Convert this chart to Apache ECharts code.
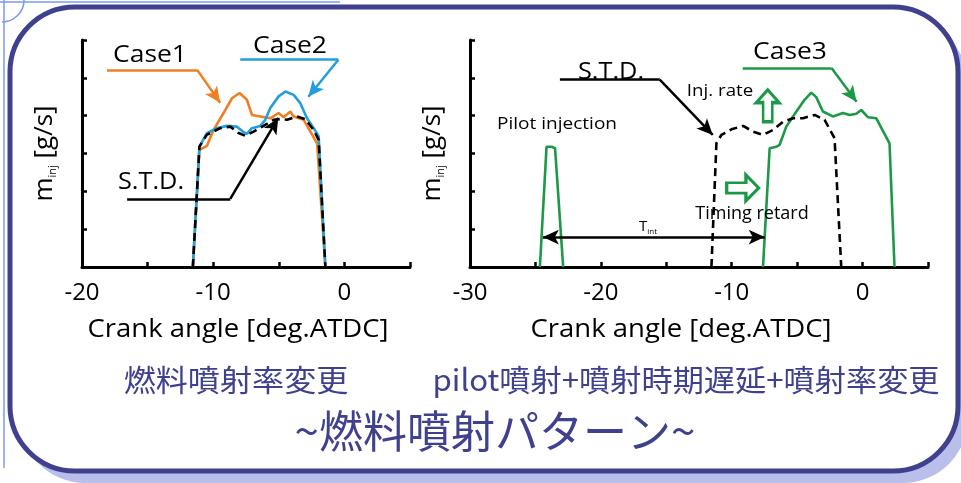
<!DOCTYPE html>
<html><head><meta charset="utf-8">
<script src="https://cdn.jsdelivr.net/npm/echarts@6/dist/echarts.min.js"></script>
<style>html,body{margin:0;padding:0;background:#fff}#c{width:961px;height:483px}</style>
</head><body><div id="c"></div>
<script>
// ---- data (crank angle [deg ATDC], injection rate in tick units) ----
var std1X  = [-11.55,-11.05,-10.5,-9.47,-8.7,-8.07,-7.56,-6.92,-6.16,-5.4,-4.89,-4.37,-3.61,-2.98,-2.34,-1.96,-1.45];
var std1Y  = [0,3.18,3.49,3.67,3.71,3.54,3.47,3.58,3.73,3.89,3.91,3.89,3.98,3.91,3.62,3.36,0];
var case1X = [-11.55,-11.05,-10.48,-9.98,-9.21,-8.57,-7.99,-7.43,-7.05,-6.41,-5.65,-5.01,-4.63,-4.12,-3.87,-3.1,-2.08,-1.45];
var case1Y = [0,3.1,3.2,3.62,4.07,4.46,4.6,4.42,4.02,3.98,3.93,4.07,3.96,4.11,3.98,3.89,3.27,0];
var case2X = [-11.55,-11.05,-10.48,-9.72,-8.95,-8.19,-7.74,-7.43,-7.05,-6.41,-6.03,-5.65,-5.01,-4.5,-3.87,-3.36,-2.85,-2.34,-1.96,-1.45];
var case2Y = [0,3.18,3.54,3.67,3.73,3.71,3.58,3.52,3.67,3.73,3.89,4.2,4.51,4.64,4.55,4.33,3.93,3.67,3.45,0];
var pilotX = [-24.66,-24.15,-23.76,-23.5,-22.88];
var pilotY = [0,3.18,3.18,3.14,0];
var case3X = [-7.61,-7.1,-6.59,-6.34,-5.83,-5.06,-4.43,-3.92,-3.54,-3.03,-2.27,-1.5,-0.99,-0.48,-0.1,0.41,1.05,2.06,2.44];
var case3Y = [0,3.14,3.18,3.23,3.71,4.11,4.42,4.61,4.49,4.11,3.98,4.07,4.02,4.05,4.15,3.96,3.93,3.27,0];
var std2X  = [-11.55,-11.17,-10.79,-10.02,-9.13,-8.37,-7.61,-6.85,-6.08,-5.32,-4.56,-3.66,-2.9,-2.14,-1.63];
var std2Y  = [0,3.27,3.49,3.64,3.73,3.58,3.49,3.62,3.84,3.93,3.93,4.02,3.89,3.4,0];
var leftTickLabels  = ['-20','-10','0'];
var rightTickLabels = ['-30','-20','-10','0'];
var xName = 'Crank angle [deg.ATDC]';
var subLeft = '燃料噴射率変更';
var subRight = 'pilot噴射+噴射時期遅延+噴射率変更';
var mainTitle = '~燃料噴射パターン~';

function pairs(xs, ys){ return xs.map(function(x,i){return [x, ys[i]];}); }

var ORANGE='#ee7f22', BLUE='#229fdb', GREEN='#1b9947', NAVY='#3f418f';
var FONT='"Open Sans", "Noto Sans", sans-serif';
var CJK='"Noto Sans CJK JP", sans-serif';

function xAxisCfg(idx, min, labels){
  return {type:'value', gridIndex:idx, min:min, max:5, interval:5,
    axisLine:{show:true, onZero:false, lineStyle:{color:'#000', width:3}},
    axisTick:{show:true, inside:true, length:5, lineStyle:{color:'#000', width:2.5}},
    splitLine:{show:false},
    axisLabel:{margin:14, color:'#000', fontSize:24, fontFamily:FONT,
      formatter:function(v){ var s=String(v); return labels.indexOf(s)>=0 ? s : ''; }}};
}
function yAxisCfg(idx){
  return {type:'value', gridIndex:idx, min:0, max:6, interval:1,
    axisLine:{show:true, onZero:false, lineStyle:{color:'#000', width:3}},
    axisTick:{show:true, inside:true, length:5, lineStyle:{color:'#000', width:2.5}},
    axisLabel:{show:false}, splitLine:{show:false},
    name:'{m|m}{s|inj}{m| [g/s]}', nameLocation:'middle', nameRotate:90, nameGap:24,
    nameTextStyle:{rich:{m:{fontSize:26, fontFamily:FONT, color:'#000'}, s:{fontSize:11, fontFamily:FONT, color:'#000', verticalAlign:'bottom', padding:[12,0,0,0]}}}};
}
function leader(color, p0, p1, p2, extra){
  return {type:'line', xAxisIndex:extra, yAxisIndex:extra, data:[], silent:true,
    markLine:{silent:true, animation:false, symbol:['none','arrow'], symbolSize:[11,16],
      label:{show:false}, lineStyle:{color:color, width:2.5, type:'solid'},
      data:[[{coord:p0, symbol:'none'},{coord:p1, symbol:'none'}],[{coord:p1, symbol:'none'},{coord:p2, symbol:'arrow'}]]}};
}
function lineSeries(xi, data, color, dashed, z){
  return {type:'line', xAxisIndex:xi, yAxisIndex:xi, data:data, showSymbol:false, symbol:'none', z:z,
    animation:false, lineStyle:{color:color, width:2.6, type: dashed?[8,5]:'solid'}};
}
function txt(t, x, y, size, family, color, sx){
  return {type:'text', x:x, y:y, scaleX:sx||1, z:20,
    style:{text:t, x:0, y:0, align:'center', verticalAlign:'middle', font:size+'px '+family, fill:color}};
}

var chart = echarts.init(document.getElementById('c'), null, {renderer:'canvas'});
var option = {
  backgroundColor:'#ffffff',
  animation:false,
  grid:[{left:82, top:40, width:328, height:227},{left:470, top:40, width:458, height:227}],
  xAxis:[xAxisCfg(0,-20,leftTickLabels), xAxisCfg(1,-30,rightTickLabels)],
  yAxis:[yAxisCfg(0), yAxisCfg(1)],
  graphic:[
    {type:'rect', z:-10, shape:{x:20, y:19, width:948, height:464, r:65}, style:{fill:'#b9bfea'}},
    {type:'rect', z:-9, shape:{x:10, y:7, width:948, height:464, r:65}, style:{fill:'#fff', stroke:NAVY, lineWidth:5}},
    {type:'line', z:-8, shape:{x1:0,y1:2,x2:340,y2:2}, style:{stroke:'#7b98f0', lineWidth:1.5}},
    {type:'line', z:-8, shape:{x1:4,y1:0,x2:4,y2:468}, style:{stroke:'#7b98f0', lineWidth:1.5}},
    {type:'arc', z:-8, shape:{cx:2, cy:0, r:22, startAngle:0, endAngle:Math.PI/2}, style:{stroke:'#7b98f0', lineWidth:1.5, fill:null}},
    txt(xName, 238, 330, 25, FONT, '#000', 1.1),
    txt(xName, 681, 330, 25, FONT, '#000', 1.1),
    txt(subLeft, 236, 380, 30, CJK, NAVY, 1.07),
    txt(subRight, 686, 380, 30, CJK, NAVY, 1.04),
    txt(mainTitle, 495, 431, 44, CJK, NAVY, 1),
    txt('Case1', 150, 55, 23, FONT, '#000', 1.15),
    txt('Case2', 290, 46, 23, FONT, '#000', 1.15),
    txt('S.T.D.', 151, 182, 23, FONT, '#000', 1.1),
    txt('S.T.D.', 611, 72, 23, FONT, '#000', 1.1),
    txt('Case3', 790, 52, 23, FONT, '#000', 1.15),
    txt('Inj. rate', 720, 91, 17, FONT, '#000', 1.1),
    txt('Pilot injection', 557, 124, 17, FONT, '#000', 1.12),
    txt('Timing retard', 752, 214, 18, FONT, '#000', 1),
    {type:'text', x:648, y:227, z:20, style:{text:'{t|T}{s|int}', x:0, y:0, align:'center', verticalAlign:'middle', rich:{t:{fontSize:15, fontFamily:FONT, fill:'#000'}, s:{fontSize:8, fontFamily:FONT, fill:'#000', padding:[10,0,0,0]}}}}
  ],
  series:[
    lineSeries(0, pairs(case1X,case1Y), ORANGE, false, 3),
    lineSeries(0, pairs(case2X,case2Y), BLUE, false, 4),
    lineSeries(0, pairs(std1X,std1Y), '#000', true, 5),
    lineSeries(1, pairs(std2X,std2Y), '#000', true, 5),
    lineSeries(1, pairs(pilotX,pilotY), GREEN, false, 4),
    lineSeries(1, pairs(case3X,case3Y), GREEN, false, 4),
    leader(ORANGE, [-18.09,5.21], [-11.22,5.21], [-9.47,4.34], 0),
    leader(BLUE, [-7.94,5.48], [-0.46,5.48], [-2.75,4.5], 0),
    leader('#000', [-16.56,1.8], [-8.7,1.8], [-5.04,3.94], 0),
    leader('#000', [-23.13,4.95], [-15.5,4.95], [-11.45,3.49], 1),
    leader(GREEN, [-9.16,5.26], [-2.37,5.26], [-0.46,4.37], 1),
    {type:'line', xAxisIndex:1, yAxisIndex:1, data:[], silent:true,
      markLine:{silent:true, animation:false, symbol:['arrow','arrow'], symbolSize:[11,16], label:{show:false},
        lineStyle:{color:'#000', width:2.5, type:'solid'},
        data:[[{coord:[-24.43,0.79]},{coord:[-7.48,0.79]}]]},
      markPoint:{silent:true, animation:false, label:{show:false},
        data:[
          {coord:[-9.16,2.09], symbol:'path://M0,3 L6,3 L6,0 L10,5 L6,10 L6,7 L0,7 Z', symbolSize:[32,26],
            itemStyle:{color:'#fff', borderColor:GREEN, borderWidth:3}},
          {coord:[-7.25,4.26], symbol:'path://M3,10 L3,4 L0,4 L5,0 L10,4 L7,4 L7,10 Z', symbolSize:[23,32],
            itemStyle:{color:'#fff', borderColor:GREEN, borderWidth:3}}
        ]}}
  ]
};
chart.setOption(option);
</script></body></html>
